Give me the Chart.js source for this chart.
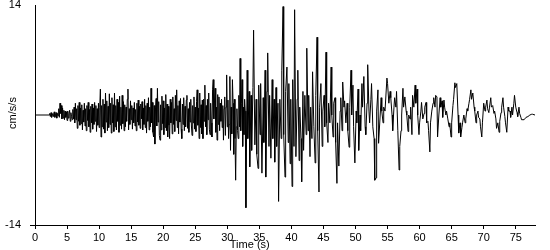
<!DOCTYPE html>
<html>
<head>
<meta charset="utf-8">
<script src="https://cdn.jsdelivr.net/npm/chart.js@4"></script>
<style>
  html, body { margin: 0; padding: 0; background: #fff; }
  #wrap { width: 550px; height: 250px; position: relative; }
</style>
</head>
<body>
<div id="wrap"><canvas id="c" width="550" height="250"></canvas></div>
<script>
// ---- data ----
const timeSec = [
  0,2.2,2.3,2.4,2.5,2.6,2.8,2.9,3.0,3.1,
  3.3,3.4,3.5,3.6,3.7,3.8,3.9,4.0,4.1,4.2,
  4.3,4.4,4.5,4.6,4.7,4.8,4.9,5.0,5.1,5.2,
  5.3,5.4,5.5,5.6,5.7,5.8,5.9,6.0,6.1,6.2,
  6.3,6.4,6.5,6.6,6.7,6.8,6.9,7.0,7.1,7.2,
  7.3,7.4,7.5,7.6,7.7,7.8,7.9,8.0,8.1,8.2,
  8.3,8.4,8.5,8.6,8.7,8.8,8.9,9.0,9.1,9.2,
  9.3,9.4,9.5,9.6,9.7,9.8,9.9,10.0,10.1,10.2,
  10.3,10.4,10.5,10.6,10.7,10.8,10.9,11.0,11.1,11.2,
  11.3,11.4,11.5,11.6,11.7,11.8,11.9,12.0,12.1,12.2,
  12.3,12.4,12.5,12.6,12.7,12.8,12.9,13.0,13.1,13.2,
  13.3,13.4,13.5,13.6,13.7,13.8,13.9,14.0,14.1,14.2,
  14.3,14.4,14.5,14.6,14.7,14.8,14.9,15.0,15.1,15.2,
  15.3,15.4,15.5,15.6,15.7,15.8,15.9,16.0,16.1,16.2,
  16.3,16.4,16.5,16.6,16.7,16.8,16.9,17.0,17.1,17.2,
  17.3,17.4,17.5,17.6,17.7,17.8,17.9,18.0,18.1,18.2,
  18.3,18.4,18.5,18.6,18.7,18.8,18.9,19.0,19.1,19.2,
  19.3,19.4,19.5,19.6,19.7,19.8,19.9,20.0,20.1,20.2,
  20.3,20.4,20.5,20.6,20.7,20.8,20.9,21.0,21.1,21.2,
  21.3,21.4,21.5,21.6,21.7,21.8,21.9,22.0,22.1,22.2,
  22.3,22.4,22.5,22.6,22.7,22.8,22.9,23.0,23.1,23.2,
  23.3,23.4,23.5,23.6,23.7,23.8,23.9,24.0,24.1,24.2,
  24.3,24.4,24.5,24.6,24.7,24.8,24.9,25.0,25.1,25.2,
  25.3,25.4,25.5,25.6,25.7,25.8,25.9,26.0,26.1,26.2,
  26.3,26.4,26.5,26.6,26.7,26.8,26.9,27.0,27.1,27.2,
  27.3,27.4,27.5,27.6,27.7,27.8,27.9,28.0,28.1,28.2,
  28.3,28.4,28.5,28.6,28.7,28.8,28.9,29.0,29.1,29.2,
  29.3,29.4,29.5,29.6,29.7,29.8,29.9,30.0,30.1,30.2,
  30.3,30.4,30.5,30.6,30.7,30.8,30.9,31.0,31.1,31.2,
  31.3,31.4,31.5,31.6,31.7,31.8,31.9,32.0,32.1,32.2,
  32.3,32.4,32.5,32.6,32.7,32.8,
  32.9,33.1,33.2,33.4,33.5,33.7,33.8,34.0,34.1,34.3,
  34.5,34.6,34.8,34.9,35.1,35.2,35.4,35.6,35.7,35.9,
  36.0,36.2,36.3,36.5,36.6,36.8,37.0,37.1,37.3,37.4,
  37.6,37.7,37.9,38.0,38.2,38.4,38.5,38.7,38.8,39.0,
  39.1,39.3,39.5,39.6,39.8,39.9,40.1,40.2,40.4,40.5,
  40.7,40.9,41.0,41.2,41.3,41.5,41.6,41.8,41.9,42.1,
  42.3,42.4,42.6,42.7,42.9,43.0,43.2,43.3,43.5,43.7,
  43.8,44.0,44.1,44.3,44.4,44.6,44.8,44.9,45.1,45.2,
  45.4,45.5,45.7,45.8,46.0,46.2,46.3,46.5,46.6,46.8,
  46.9,47.1,47.2,47.4,47.6,47.7,47.9,48.0,48.2,48.3,
  48.5,48.7,48.8,49.0,49.1,49.3,49.4,49.6,49.7,49.9,
  50.1,50.2,50.4,50.5,50.7,50.8,51.0,51.1,51.3,51.5,
  51.6,51.8,51.9,52.1,52.2,52.4,52.5,52.7,52.9,53.0,
  53.2,53.3,53.5,53.6,54.0,54.1,54.3,54.4,54.6,54.9,
  55.0,55.2,55.4,55.5,55.7,55.8,56.0,56.1,56.3,56.4,
  56.6,56.8,56.9,57.1,57.2,57.4,57.5,57.7,57.9,58.0,
  58.2,58.3,58.5,58.6,58.8,58.9,59.1,59.3,59.4,59.6,
  59.7,59.9,60.0,60.2,60.3,60.5,60.7,60.8,61.0,61.1,
  61.3,61.4,61.6,61.7,61.9,62.1,62.2,62.4,62.5,62.7,
  62.8,63.0,63.2,63.3,63.5,63.6,63.8,63.9,64.1,64.2,
  64.4,64.6,64.7,64.9,65.0,65.2,65.3,65.5,65.6,65.8,
  66.0,66.1,66.3,66.4,66.6,66.7,66.9,67.1,67.2,67.4,
  67.5,67.7,67.8,68.0,68.1,68.3,68.5,68.6,68.8,68.9,
  69.1,69.2,69.4,69.5,69.7,69.8,70.0,70.2,70.3,70.5,
  70.6,70.8,70.9,71.1,71.2,71.4,71.6,71.7,71.9,72.0,
  72.2,72.4,72.5,72.7,72.8,73.0,73.1,73.3,73.4,73.6,
  73.8,73.9,74.1,74.2,74.4,74.5,74.7,74.8,75.0,75.2,
  75.3,75.5,75.6,75.8,75.9,76.3,76.6,76.9,77.2,77.5,
  77.6,78.0
];
const accel = [
  0,0,0.2,-0.2,0.3,-0.3,0.2,-0.2,0.4,-0.3,
  0.3,-0.4,0.2,-0.1,0.8,-0.3,1.5,0.2,1.2,-0.5,
  0.9,-0.4,0.6,-0.6,0.5,-0.3,0.4,-0.7,0.5,-0.4,
  0.2,0.6,-0.8,0.3,-0.2,-0.6,0.7,-0.5,1.0,-1.0,
  1.5,-0.6,0.8,-1.7,1.2,-0.8,1.6,-1.3,0.9,-1.1,
  1.3,-1.9,0.6,-0.9,1.5,-1.4,0.8,-2.0,1.2,-0.7,
  1.6,-1.5,0.7,-2.2,1.1,-1.0,1.4,-1.8,0.9,-1.2,
  1.6,-0.8,1.2,-2.1,0.8,-1.3,1.5,-1.6,1.0,3.3,
  -2.8,1.2,-1.5,2.0,-1.8,1.4,-2.3,2.8,-0.9,1.8,
  -2.0,1.1,-1.6,2.7,-1.2,1.5,-2.3,2.2,-1.0,1.3,
  -2.1,2.8,-1.5,1.2,-1.9,2.0,-0.8,1.6,-2.2,2.4,
  -1.3,1.0,-1.8,2.5,-1.1,1.7,-2.0,1.3,-1.5,1.0,
  -0.8,2.0,3.3,-1.9,0.8,-1.2,1.8,-0.6,1.2,-1.8,
  0.9,-1.0,1.6,-1.4,0.7,-2.0,1.5,-0.9,1.9,-1.3,
  1.1,-1.7,1.4,-0.5,1.7,-1.9,0.9,-1.2,2.0,-1.6,
  1.2,-2.3,1.5,-0.8,2.2,-1.9,1.0,-1.5,3.4,-1.0,
  1.6,-2.2,-2.8,1.2,-3.7,0.9,2.1,-1.4,3.4,-0.9,
  1.7,-2.6,-3.2,1.3,-1.9,2.4,-1.1,1.8,-2.5,0.9,
  -1.6,2.6,-2.0,1.4,-2.8,1.1,-1.3,-3.0,2.0,-1.0,
  1.6,-2.4,2.3,-1.2,0.8,-2.1,2.5,-0.7,3.2,-1.6,
  1.2,-2.4,1.8,-0.9,2.1,-1.8,-3.0,1.4,-1.2,2.2,
  -2.0,1.1,-1.5,1.9,2.5,-1.7,0.8,-2.2,1.6,-0.9,
  2.0,-1.4,-2.6,1.2,-1.0,2.3,-1.8,1.0,-2.1,1.7,
  3.2,-1.3,0.9,-3.0,2.8,-1.6,1.3,-2.4,1.9,-3.0,
  2.0,-0.8,3.8,-1.5,1.2,-2.5,2.0,-0.6,2.8,-1.8,
  -2.5,1.5,-1.0,-2.8,3.2,4.5,-0.5,1.8,3.4,-2.2,
  1.0,-3.2,2.6,-1.2,2.3,-2.0,1.5,-0.8,2.0,-1.6,
  1.2,-3.2,0.8,2.3,-2.6,1.0,5.1,-1.5,1.9,-3.0,
  -1.2,4.9,-4.5,1.0,-2.4,4.5,1.5,-5.0,2.0,-3.0,
  -8.3,-1.5,0.8,-2.0,-3.0,2.5,-1.5,7.2,-2.0,1.5,
  4.5,-4.0,1.0,-2.5,2.0,0.5,
  -11.8,5.7,-3.0,3.0,-6.6,2.5,-4.5,3.5,10.8,-3.8,
  2.0,-5.0,-6.8,3.8,-2.5,4.0,-7.4,2.2,-3.5,5.7,
  -7.9,3.0,7.9,-4.0,2.5,-5.5,4.5,-3.0,2.0,-6.0,
  3.5,-4.0,1.5,-11.0,2.0,-3.0,5.7,13.8,-2.5,-7.9,
  3.0,6.1,-3.5,4.0,-6.2,2.0,-9.1,4.5,-4.0,13.4,
  -5.3,2.0,5.7,-5.8,1.0,-3.0,-8.5,3.0,-4.5,2.5,
  -2.5,8.5,-2.0,2.5,-5.3,1.0,-3.0,5.5,-1.5,-6.1,
  2.5,9.9,-2.0,-9.8,1.0,4.0,-4.0,0.5,2.5,-1.5,
  8.0,-1.0,-3.5,1.5,-1.0,6.1,0.0,-2.8,1.5,2.2,
  -3.5,-8.7,-1.0,-6.5,0.5,2.2,-2.0,4.2,1.0,1.8,
  -1.0,1.5,-2.0,-4.1,1.0,5.7,0.0,3.8,-1.5,-6.1,
  0.5,-1.0,3.3,-4.5,0.0,-2.0,4.0,1.0,4.9,-1.5,
  -2.5,1.5,6.4,0.5,-1.0,2.0,4.0,-1.5,-3.0,-8.3,
  -8.0,0.5,3.2,-3.6,2.2,0.5,-1.0,1.0,0.5,4.7,
  4.0,1.5,3.0,2.2,0.0,-2.0,1.0,2.2,1.0,3.0,
  -2.0,-7.0,-4.0,-2.0,0.0,3.4,1.0,2.3,0.5,0.0,
  -2.1,0.0,-0.5,1.0,-2.5,2.5,1.0,3.8,1.5,3.3,
  0.0,-2.5,-1.0,0.5,1.6,-0.5,0.2,1.0,1.6,-1.0,
  -0.8,-2.0,-4.7,-1.0,0.5,1.5,2.2,1.0,2.5,2.3,
  -2.8,0.0,2.2,1.0,1.8,-0.3,1.9,1.0,0.0,0.5,
  -0.5,-1.5,-1.0,-2.8,-1.0,1.2,2.0,4.1,3.5,4.0,
  0.0,-2.3,-1.0,-2.8,-1.6,-1.0,0.0,-1.0,-0.5,0.8,
  0.5,1.5,2.0,3.2,2.0,2.8,1.0,0.5,-1.0,0.0,
  0.5,-0.3,-0.5,-1.5,-2.8,-1.0,1.5,0.5,1.0,1.9,
  0.8,0.3,1.0,2.2,1.0,1.2,0.2,0.5,-0.5,-1.7,
  -1.0,-2.2,-0.8,0.3,1.0,2.2,1.0,-0.2,-1.0,-2.2,
  1.0,0.5,0.5,-0.3,1.0,0.0,1.5,2.5,1.0,0.3,
  -0.2,1.0,0.2,-0.3,-0.6,-0.6,-0.3,-0.2,0.0,0.1,
  0.1,0.0
];
const xTickValues = [0,5,10,15,20,25,30,35,40,45,50,55,60,65,70,75];
const yTickValues = [-14,14];
const xAxisTitle = 'Time (s)';
const yAxisTitle = 'cm/s/s';
const xRange = [0, 78];
const yRange = [-14, 14];

// ---- chart ----
const FONT = '"Liberation Sans", Arial, sans-serif';
const points = timeSec.map((t, i) => ({ x: t, y: accel[i] }));

const axisTitles = {
  id: 'axisTitles',
  afterDraw(chart) {
    const { ctx, scales: { x, y } } = chart;
    ctx.save();
    ctx.fillStyle = '#000';
    ctx.font = '11px ' + FONT;
    ctx.textAlign = 'center';
    ctx.textBaseline = 'middle';
    ctx.fillText(xAxisTitle, x.getPixelForValue(33.5), 245);
    ctx.translate(13, y.getPixelForValue(0) - 2);
    ctx.rotate(-Math.PI / 2);
    ctx.fillText(yAxisTitle, 0, 0);
    ctx.restore();
  }
};

new Chart(document.getElementById('c'), {
  type: 'line',
  data: {
    datasets: [{
      data: points,
      borderColor: '#000',
      borderWidth: 1,
      pointRadius: 0,
      tension: 0,
      fill: false
    }]
  },
  options: {
    responsive: false,
    animation: false,
    events: [],
    layout: { padding: { top: 5, right: 15, bottom: 0, left: 0 } },
    plugins: { legend: { display: false }, tooltip: { enabled: false } },
    scales: {
      x: {
        type: 'linear',
        min: xRange[0],
        max: xRange[1],
        afterBuildTicks: s => { s.ticks = xTickValues.map(v => ({ value: v })); },
        afterFit: s => { s.height = 25; s.paddingLeft = 0; s.paddingRight = 0; },
        border: { display: true, color: '#000', width: 1 },
        grid: { display: true, drawOnChartArea: false, drawTicks: true, tickLength: 4, color: '#000' },
        ticks: { color: '#000', font: { size: 11, family: FONT, lineHeight: 1 }, padding: 3, maxRotation: 0, autoSkip: false }
      },
      y: {
        type: 'linear',
        min: yRange[0],
        max: yRange[1],
        afterBuildTicks: s => { s.ticks = yTickValues.map(v => ({ value: v })); },
        afterFit: s => { s.width = 35; s.paddingTop = 0; s.paddingBottom = 0; },
        border: { display: true, color: '#000', width: 1 },
        grid: {
          display: true, drawOnChartArea: false, drawTicks: true, tickLength: 5,
          color: c => (c.tick && c.tick.value === -14) ? '#000' : 'rgba(0,0,0,0)'
        },
        ticks: { color: '#000', font: { size: 11, family: FONT, lineHeight: 1 }, padding: 9 }
      }
    }
  },
  plugins: [axisTitles]
});
</script>
</body>
</html>
